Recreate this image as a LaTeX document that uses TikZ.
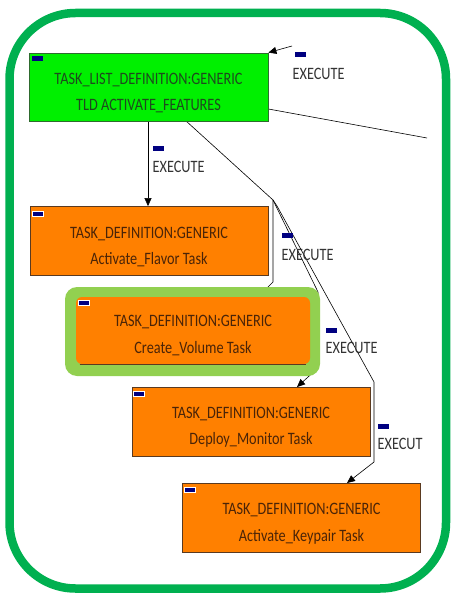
\documentclass[tikz,border=0pt]{standalone}
\usepackage{fontspec}
\setmainfont{Carlito}[FakeStretch=0.82]
\usetikzlibrary{backgrounds,arrows.meta}
\definecolor{framegreen}{HTML}{00B050}
\definecolor{tldgreen}{HTML}{00F000}
\definecolor{tldborder}{HTML}{2E6B2E}
\definecolor{tldtext}{HTML}{1E4A1E}
\definecolor{taskorange}{HTML}{FF8000}
\definecolor{taskborder}{HTML}{5A3A20}
\definecolor{tasktext}{HTML}{4A2408}
\definecolor{hilite}{HTML}{92D050}
\definecolor{markblue}{HTML}{000080}
\begin{document}
\begin{tikzpicture}[x=1pt,y=-1pt,
  font=\fontsize{17.4}{26.5}\selectfont,
  tldbox/.style={draw=tldborder,line width=0.8pt,fill=tldgreen,
    minimum width=239pt,minimum height=68pt,inner sep=0pt},
  taskbox/.style={draw=taskborder,line width=0.8pt,fill=taskorange,
    minimum width=238pt,minimum height=69pt,inner sep=0pt},
  tldtxt/.style={text=tldtext,align=center,inner sep=0pt},
  tasktxt/.style={text=tasktext,align=center,inner sep=0pt},
  hibox/.style={fill=hilite,rounded corners=12pt,minimum width=255pt,minimum height=89pt},
  conn/.style={draw=black,line width=0.6pt},
  arr/.style={conn,-{Triangle[length=8pt,width=7pt]}},
  lbl/.style={anchor=west,inner sep=0pt,text=black!80},
  navytag/.style={fill=markblue,minimum width=11pt,minimum height=5pt,inner sep=0pt},
  navytagb/.style={fill=markblue,draw=white,line width=0.6pt,minimum width=11pt,minimum height=5pt,inner sep=0pt}]
\useasboundingbox (0,0) rectangle (451,593);

% outer frame
\draw[framegreen,line width=8.5pt,rounded corners=66pt] (9.5,13) rectangle (446,588.5);

% task boxes
\node[tldbox] (tld) at (148.5,87) {};
\node[taskbox] (flavor) at (149,241) {};
\node[hibox] (volhi) at (192.5,331.5) {};
\node[taskbox,draw=none,rounded corners=6pt,minimum width=234pt,minimum height=67pt] (volume) at (193,330.5) {};
\draw[taskborder,line width=0.8pt] ([xshift=4pt]volume.south west) -- ([xshift=-4pt]volume.south east);
\node[taskbox] (deploy) at (251,421.5) {};
\node[taskbox] (keypair) at (301.5,518) {};

% box captions, set a little below centre
\node[tldtxt]  (tldt)     at ([yshift=-6pt]tld.center)     {TASK\_LIST\_DEFINITION:GENERIC\\TLD ACTIVATE\_FEATURES};
\node[tasktxt] (flavort)  at ([yshift=-6pt]flavor.center)  {TASK\_DEFINITION:GENERIC\\Activate\_Flavor Task};
\node[tasktxt] (volumet)  at ([yshift=-5pt]volume.center)  {TASK\_DEFINITION:GENERIC\\Create\_Volume Task};
\node[tasktxt] (deployt)  at ([yshift=-6pt]deploy.center)  {TASK\_DEFINITION:GENERIC\\Deploy\_Monitor Task};
\node[tasktxt] (keypairt) at ([yshift=-6pt]keypair.center) {TASK\_DEFINITION:GENERIC\\Activate\_Keypair Task};

% small markers in box corners
\node[navytag]  (m0) at (37.5,58.5) {};
\node[navytagb] (m1) at (37.5,213.5) {};
\node[navytagb] (m2) at (83.5,302.5) {};
\node[navytagb] (m3) at (139,394) {};
\node[navytagb] (m4) at (189.5,490) {};

% free ends of open connectors
\coordinate (inA) at (292,46);
\coordinate (outA) at (427,138);
\coordinate (fork) at (273,200);

% connectors
\begin{pgfonlayer}{background}
\draw[arr] (inA) -- (tld.north east);
\draw[conn] ([yshift=-22pt]tld.east) -- (outA);
\draw[arr] ([xshift=-0.5pt]tld.south) -- ([xshift=-1pt]flavor.north);
\draw[conn] ([xshift=38pt]tld.south) -- (fork);
\draw[arr] (fork) -- (273,282) -- (258,297);
\draw[arr] (fork) -- (318,292) -- (318,368) -- (297,387);
\draw[arr] (fork) -- (277,206) -- (374,382) -- (374,462) -- (347,483);
\end{pgfonlayer}

% connector labels
\node[navytag] (l0m) at (300,55) {};
\node[lbl] (l0) at (292.5,73.5) {EXECUTE};
\node[navytag] (l1m) at (158.5,148.5) {};
\node[lbl] (l1) at (152.5,166.5) {EXECUTE};
\node[navytag] (l2m) at (287.5,236) {};
\node[lbl] (l2) at (281.5,254.5) {EXECUTE};
\node[navytag] (l3m) at (331.5,330) {};
\node[lbl] (l3) at (325.5,347.5) {EXECUTE};
\node[navytag] (l4m) at (383.5,426) {};
\node[lbl] (l4) at (377.5,443.5) {EXECUT};
\end{tikzpicture}
\end{document}
